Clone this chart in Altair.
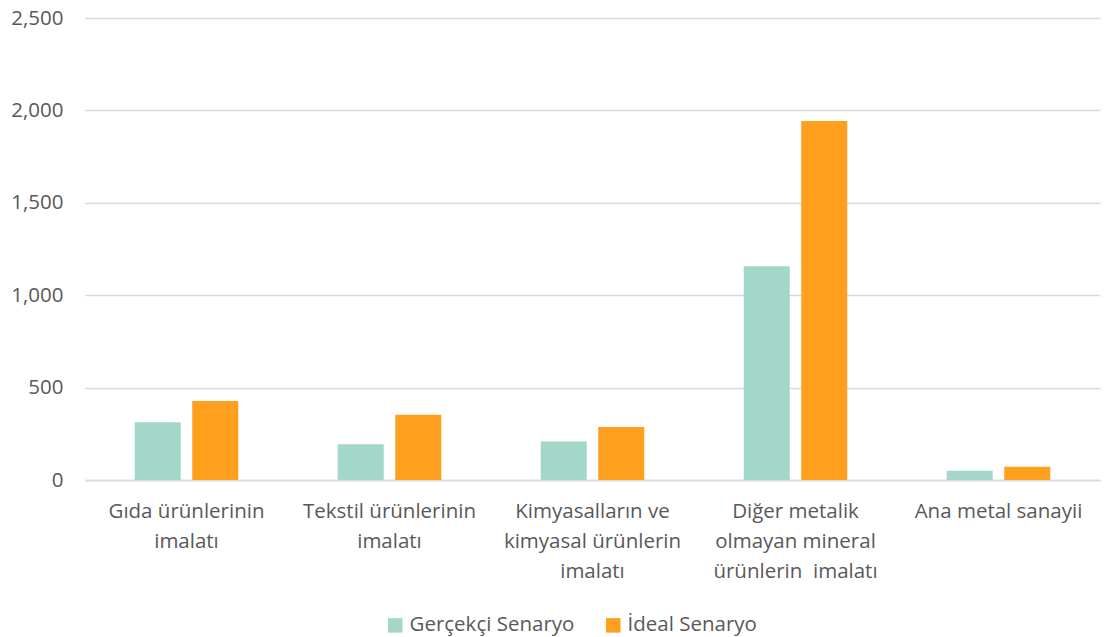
import altair as alt
import pandas as pd

# Sectors (line breaks marked with "|") and the two scenario series
sectors = [
    "Gıda ürünlerinin|imalatı",
    "Tekstil ürünlerinin|imalatı",
    "Kimyasalların ve|kimyasal ürünlerin|imalatı",
    "Diğer metalik|olmayan mineral|ürünlerin \u00a0imalatı",
    "Ana metal sanayii",
]
series_names = ["Gerçekçi Senaryo", "İdeal Senaryo"]
realistic = [312, 193, 209, 1156, 50]
ideal = [427, 353, 287, 1943, 72]
colors = ["#a2d7c9", "#ff9f1e"]

rows = []
for i, s in enumerate(sectors):
    rows.append({"sektor": s, "senaryo": series_names[0], "deger": realistic[i]})
    rows.append({"sektor": s, "senaryo": series_names[1], "deger": ideal[i]})
df = pd.DataFrame(rows)

font = "Open Sans"
text_color = "#595959"
fs = 20.5

chart = (
    alt.Chart(df)
    .mark_bar()
    .encode(
        x=alt.X(
            "sektor:N",
            sort=sectors,
            title=None,
            scale=alt.Scale(paddingInner=0.49, paddingOuter=0.245),
            axis=alt.Axis(
                labelAngle=0,
                labelExpr="split(datum.label, '|')",
                labelLineHeight=30,
                labelPadding=21,
                labelBaseline="top",
                ticks=False,
                grid=False,
                domain=True,
                domainColor="#d9d9d9",
                domainWidth=1.5,
                labelFont=font,
                labelFontSize=fs,
                labelColor=text_color,
                labelLimit=300,
            ),
        ),
        xOffset=alt.XOffset(
            "senaryo:N",
            sort=series_names,
            scale=alt.Scale(paddingInner=0.2, paddingOuter=0),
        ),
        y=alt.Y(
            "deger:Q",
            title=None,
            scale=alt.Scale(domain=[0, 2500], nice=False),
            axis=alt.Axis(
                values=[0, 500, 1000, 1500, 2000, 2500],
                format=",.0f",
                domain=False,
                ticks=False,
                grid=True,
                gridColor="#d9d9d9",
                gridWidth=1.5,
                labelPadding=22,
                labelFont=font,
                labelFontSize=fs,
                labelColor=text_color,
            ),
        ),
        color=alt.Color(
            "senaryo:N",
            sort=series_names,
            scale=alt.Scale(domain=series_names, range=colors),
            legend=alt.Legend(
                title=None,
                orient="none",
                direction="horizontal",
                legendX=300,
                legendY=597,
                symbolType="square",
                symbolSize=210,
                symbolStrokeWidth=0,
                labelFont=font,
                labelFontSize=fs,
                labelColor=text_color,
                labelLimit=300,
                columnPadding=28,
                labelOffset=4,
            ),
        ),
    )
    .properties(
        width=1015,
        height=462,
        autosize="none",
        background="white",
        padding={"left": 85, "top": 18, "right": 4, "bottom": 157},
    )
    .configure_view(strokeWidth=0, stroke="transparent")
)

chart.save("out.html", embed_options={"renderer": "svg", "actions": False})
